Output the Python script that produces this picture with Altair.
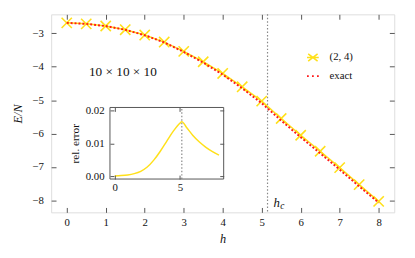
import altair as alt
import pandas as pd

# ---------------- data ----------------
h_vals = [0, 0.5, 1, 1.5, 2, 2.5, 3, 3.5, 4, 4.5, 5, 5.5, 6, 6.5, 7, 7.5, 8]
approx_vals = [-2.685, -2.715, -2.78, -2.89, -3.05, -3.26, -3.54, -3.85, -4.20,
               -4.60, -5.03, -5.55, -6.05, -6.53, -7.02, -7.53, -8.03]
exact_vals = [-2.686, -2.716, -2.781, -2.893, -3.055, -3.27, -3.555, -3.875, -4.235,
              -4.645, -5.09, -5.61, -6.11, -6.59, -7.08, -7.58, -8.07]

h_err = [0, 0.5, 1, 1.5, 2, 2.5, 3, 3.5, 4, 4.5, 5, 5.15, 5.5, 6, 6.5, 7, 7.5, 8]
rel_err = [0.0002, 0.0003, 0.0005, 0.0009, 0.0016, 0.0029, 0.0050, 0.0077, 0.0108,
           0.0138, 0.0162, 0.0167, 0.0150, 0.0125, 0.0105, 0.0089, 0.0076, 0.0065]

h_c = [5.15]
series_names = ["(2, 4)", "exact"]
size_label = ["10 × 10 × 10"]
size_label_pos = [1.44, -4.16]
hc_label_pos = [5.3, -8.2]

x_ticks = [0, 1, 2, 3, 4, 5, 6, 7, 8]
y_ticks = [-8, -7, -6, -5, -4, -3]
ix_ticks = [0, 5]
iy_ticks = [0.0, 0.01, 0.02]

X_DOM = [-0.4, 8.4]
Y_DOM = [-8.36, -2.43]
IX_DOM = [-0.36, 8.36]
IY_DOM = [-0.00075, 0.021]

# ---------------- style ----------------
W, H = 350, 202
IX_RANGE = [60, 176]
IY_RANGE = [168, 95]
FONT = "'Liberation Serif', 'DejaVu Serif', serif"
AX = "#555555"
TXT = "#111111"
YEL = "#FFE01A"
RED = "#FF1A1A"
GRAY = "#888888"

X_PATH = "M-1,-1L1,1M-1,1L1,-1"
LEG_A = "M-1,0L1,0M-0.8,-0.6L0.8,0.6M-0.8,0.6L0.8,-0.6"
LEG_E = "M-1,0L-0.7,0M-0.15,0L0.15,0M0.7,0L1,0"

main_df = pd.DataFrame({"h": h_vals, "approx": approx_vals, "exact": exact_vals})
err_df = pd.DataFrame({"h": h_err, "err": rel_err})
hc_df = pd.DataFrame({"h": h_c})
leg_df = pd.DataFrame({"series": series_names})
txt_df = pd.DataFrame({"h": [size_label_pos[0]], "v": [size_label_pos[1]], "t": size_label})
hc_txt_df = pd.DataFrame({"h": [hc_label_pos[0]], "v": [hc_label_pos[1]]})
inset_box = pd.DataFrame({"x": [IX_DOM[0]], "x2": [IX_DOM[1]], "y": [IY_DOM[0]], "y2": [IY_DOM[1]]})
inset_rule = pd.DataFrame({"h": h_c, "y": [IY_DOM[0]], "y2": [IY_DOM[1]]})


def mx():
    return alt.Scale(domain=X_DOM, nice=False, zero=False)


def my():
    return alt.Scale(domain=Y_DOM, nice=False, zero=False)


def ix():
    return alt.Scale(domain=IX_DOM, range=IX_RANGE, nice=False, zero=False)


def iy():
    return alt.Scale(domain=IY_DOM, range=IY_RANGE, nice=False, zero=False)


tick_common = dict(domain=False, grid=False, ticks=True, tickColor=AX, tickWidth=1,
                   labelFont=FONT, labelColor=TXT, titleFont=FONT, titleColor=TXT,
                   titleFontWeight="normal")

# main axes
ax_bottom = alt.Axis(orient="bottom", offset=-5, tickSize=5, values=x_ticks, format="d",
                     labelFontSize=11, labelPadding=4, title="h", titleFontSize=12.5,
                     titleFontStyle="italic", titlePadding=6, **tick_common)
ax_left = alt.Axis(orient="left", offset=-5, tickSize=5, values=y_ticks, format="d",
                   labelFontSize=11, labelPadding=8, title="E/N", titleFontSize=12.5,
                   titleFontStyle="italic", titlePadding=8, **tick_common)
ax_top = alt.Axis(orient="top", offset=-5, tickSize=5, values=x_ticks, labels=False,
                  title=None, **tick_common)
ax_right = alt.Axis(orient="right", offset=-5, tickSize=5, values=y_ticks, labels=False,
                    title=None, **tick_common)

# inset axes
iax_bottom = alt.Axis(orient="bottom", offset=-(H - IY_RANGE[0] + 4), tickSize=4,
                      values=ix_ticks, format="d", labelFontSize=11, labelPadding=3,
                      title=None, zindex=1, **tick_common)
iax_left = alt.Axis(orient="left", offset=-(IX_RANGE[0] + 4), tickSize=4,
                    values=iy_ticks, format=".2f", labelFontSize=11, labelPadding=6,
                    title="rel. error", titleFontSize=11.5, titlePadding=5, zindex=1,
                    **tick_common)
iax_top = alt.Axis(orient="top", offset=-(IY_RANGE[1] + 4), tickSize=4, values=ix_ticks,
                   labels=False, title=None, zindex=1, **tick_common)
iax_right = alt.Axis(orient="right", offset=-(W - IX_RANGE[1] + 4), tickSize=4,
                     values=iy_ticks, labels=False, title=None, zindex=1, **tick_common)

# ---------------- main layers ----------------
hc_rule = alt.Chart(hc_df).mark_rule(color=GRAY, strokeDash=[1.5, 2], strokeWidth=1.2).encode(
    x=alt.X("h:Q", scale=mx(), axis=ax_bottom),
    y=alt.value(0), y2=alt.value(H),
)
left_axis_layer = alt.Chart(main_df).mark_line(opacity=0).encode(
    x=alt.X("h:Q", scale=mx(), axis=None),
    y=alt.Y("approx:Q", scale=my(), axis=ax_left),
)

approx_line = alt.Chart(main_df).mark_line(color=YEL, strokeWidth=1.5).encode(
    x=alt.X("h:Q", scale=mx(), axis=None),
    y=alt.Y("approx:Q", scale=my(), axis=None),
)
approx_pts = alt.Chart(main_df).mark_point(shape=X_PATH, size=110, strokeWidth=1.6,
                                            color=YEL, filled=False, opacity=1).encode(
    x=alt.X("h:Q", scale=mx(), axis=None),
    y=alt.Y("approx:Q", scale=my(), axis=None),
)
exact_line = alt.Chart(main_df).mark_line(color=RED, strokeWidth=2, strokeDash=[2, 2]).encode(
    x=alt.X("h:Q", scale=mx(), axis=ax_top),
    y=alt.Y("exact:Q", scale=my(), axis=ax_right),
)

legend_props = dict(orient="none", legendX=260, legendY=37, title=None, labelFont=FONT,
                    labelFontSize=11, labelColor=TXT, symbolSize=144, symbolStrokeWidth=1.6,
                    labelOffset=10, rowPadding=5, padding=0)
legend_layer = alt.Chart(leg_df).mark_point(filled=False, opacity=1).encode(
    color=alt.Color("series:N", scale=alt.Scale(domain=series_names, range=[YEL, RED]),
                    legend=alt.Legend(**legend_props)),
    shape=alt.Shape("series:N", scale=alt.Scale(domain=series_names, range=[LEG_A, LEG_E]),
                    legend=alt.Legend(**legend_props)),
).transform_filter("false")

size_text = alt.Chart(txt_df).mark_text(font=FONT, fontSize=13.5, color=TXT,
                                        align="center", baseline="middle").encode(
    x=alt.X("h:Q", scale=mx(), axis=None),
    y=alt.Y("v:Q", scale=my(), axis=None),
    text="t:N",
)
hc_h = alt.Chart(hc_txt_df).mark_text(text="h", font=FONT, fontSize=13, fontStyle="italic",
                                      color=TXT, align="left", baseline="alphabetic").encode(
    x=alt.X("h:Q", scale=mx(), axis=None),
    y=alt.Y("v:Q", scale=my(), axis=None),
)
hc_c = alt.Chart(hc_txt_df).mark_text(text="c", font=FONT, fontSize=9.5, fontStyle="italic",
                                      color=TXT, align="left", baseline="alphabetic",
                                      dx=7, dy=2).encode(
    x=alt.X("h:Q", scale=mx(), axis=None),
    y=alt.Y("v:Q", scale=my(), axis=None),
)

# ---------------- inset layers ----------------
inset_bg = alt.Chart(inset_box).mark_rect(fill="white", stroke=AX, strokeWidth=1).encode(
    x=alt.X("x:Q", scale=ix(), axis=iax_bottom),
    x2="x2:Q",
    y=alt.Y("y:Q", scale=iy(), axis=iax_left),
    y2="y2:Q",
)
inset_line = alt.Chart(err_df).mark_line(color=YEL, strokeWidth=1.5, interpolate="monotone").encode(
    x=alt.X("h:Q", scale=ix(), axis=iax_top),
    y=alt.Y("err:Q", scale=iy(), axis=iax_right),
)
inset_hc = alt.Chart(inset_rule).mark_rule(color=GRAY, strokeDash=[1.5, 2], strokeWidth=1.2).encode(
    x=alt.X("h:Q", scale=ix(), axis=None),
    y=alt.Y("y:Q", scale=iy(), axis=None),
    y2="y2:Q",
)

chart = alt.layer(
    hc_rule, left_axis_layer, approx_line, approx_pts, exact_line, legend_layer,
    size_text, hc_h, hc_c, inset_bg, inset_line, inset_hc,
).resolve_scale(
    x="independent", y="independent", color="independent", shape="independent"
).resolve_axis(
    x="independent", y="independent"
).properties(
    width=W, height=H,
    padding={"left": 44, "top": 4, "right": 13, "bottom": 40},
    autosize=alt.AutoSizeParams(type="none"),
).configure_view(stroke=AX, strokeWidth=1).configure(background="white")

chart.save("out.html", embed_options={"renderer": "svg", "actions": False})
